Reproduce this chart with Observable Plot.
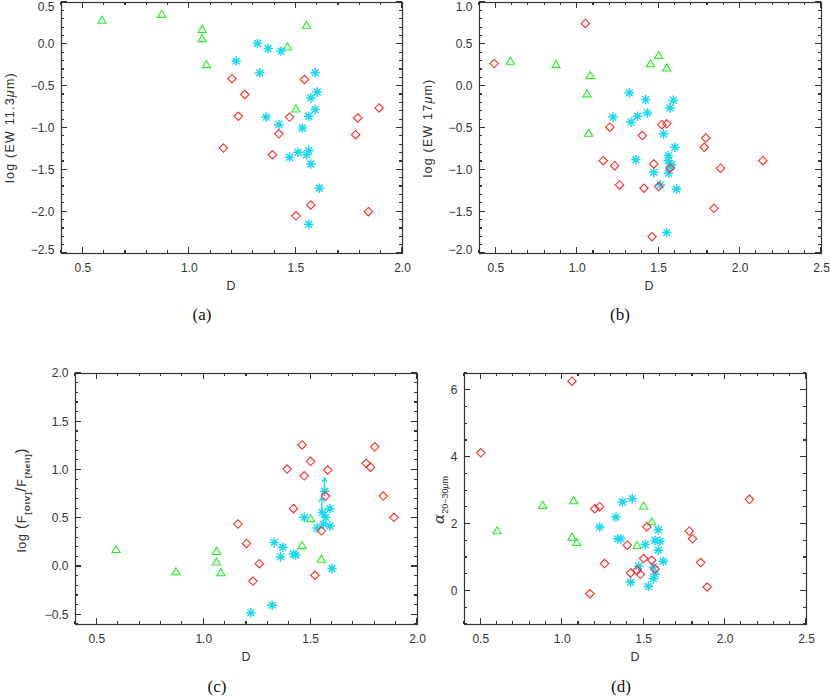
<!DOCTYPE html>
<html><head><meta charset="utf-8">
<script src="https://cdn.jsdelivr.net/npm/d3@7"></script>
<script src="https://cdn.jsdelivr.net/npm/@observablehq/plot@0.6"></script>
<style>
body{margin:0;background:#fff}
#chart{position:relative;width:830px;height:696px;overflow:hidden;background:#fff}
#chart>div{position:absolute}
#chart svg{overflow:visible;max-width:none}
</style></head><body><div id="chart"></div>
<script>
// ---------- Panel (a): log EW 11.3um vs D ----------
const aGreenD = [0.59, 0.87, 1.06, 1.06, 1.08, 1.46, 1.55, 1.50];
const aGreenV = [0.28, 0.35, 0.17, 0.06, -0.25, -0.04, 0.22, -0.78];
const aRedD = [1.20, 1.26, 1.23, 1.16, 1.39, 1.42, 1.47, 1.54, 1.50, 1.57, 1.78, 1.79, 1.89, 1.84];
const aRedV = [-0.41, -0.60, -0.86, -1.24, -1.32, -1.07, -0.87, -0.42, -2.05, -1.92, -1.08, -0.88, -0.76, -2.00];
const aCyanD = [1.32, 1.37, 1.43, 1.22, 1.33, 1.59, 1.60, 1.57, 1.59, 1.56, 1.36, 1.42, 1.53, 1.47, 1.51, 1.56, 1.55, 1.57, 1.61, 1.56];
const aCyanV = [0.01, -0.05, -0.08, -0.20, -0.34, -0.34, -0.57, -0.64, -0.78, -0.86, -0.87, -0.96, -1.00, -1.35, -1.29, -1.27, -1.32, -1.43, -1.72, -2.15];
const aXTicks = [0.5, 1.0, 1.5, 2.0];
const aYTicks = [-2.5, -2.0, -1.5, -1.0, -0.5, 0.0, 0.5];

// ---------- Panel (b): log EW 17um vs D ----------
const bGreenD = [0.59, 0.87, 1.08, 1.06, 1.07, 1.45, 1.50, 1.55];
const bGreenV = [0.29, 0.25, 0.12, -0.10, -0.57, 0.26, 0.36, 0.21];
const bRedD = [0.49, 1.05, 1.20, 1.16, 1.23, 1.26, 1.40, 1.41, 1.47, 1.50, 1.52, 1.55, 1.57, 1.79, 1.78, 1.88, 1.84, 1.46, 2.14];
const bRedV = [0.27, 0.75, -0.49, -0.89, -0.95, -1.18, -0.59, -1.22, -0.93, -1.20, -0.46, -0.45, -0.98, -0.62, -0.73, -0.98, -1.46, -1.80, -0.89];
const bCyanD = [1.32, 1.42, 1.22, 1.33, 1.37, 1.43, 1.59, 1.57, 1.53, 1.36, 1.47, 1.51, 1.60, 1.56, 1.56, 1.57, 1.58, 1.56, 1.61, 1.55];
const bCyanV = [-0.08, -0.16, -0.37, -0.43, -0.36, -0.32, -0.17, -0.26, -0.57, -0.88, -1.03, -1.18, -0.73, -0.83, -0.89, -0.96, -0.94, -1.04, -1.23, -1.75];
const bXTicks = [0.5, 1.0, 1.5, 2.0, 2.5];
const bYTicks = [-2.0, -1.5, -1.0, -0.5, 0.0, 0.5, 1.0];

// ---------- Panel (c): log F[OIV]/F[NeII] vs D ----------
const cGreenD = [0.59, 0.87, 1.06, 1.06, 1.08, 1.46, 1.50, 1.55];
const cGreenV = [0.17, -0.06, 0.15, 0.04, -0.07, 0.21, 0.49, 0.07];
const cRedD = [1.46, 1.50, 1.39, 1.47, 1.58, 1.42, 1.57, 1.55, 1.16, 1.20, 1.26, 1.23, 1.52, 1.76, 1.78, 1.80, 1.84, 1.89];
const cRedV = [1.26, 1.09, 1.01, 0.94, 1.00, 0.60, 0.73, 0.37, 0.44, 0.24, 0.03, -0.15, -0.09, 1.07, 1.03, 1.24, 0.73, 0.51];
const cCyanD = [1.33, 1.37, 1.36, 1.42, 1.43, 1.47, 1.53, 1.56, 1.57, 1.59, 1.59, 1.565, 1.555, 1.60, 1.22, 1.32];
const cCyanV = [0.25, 0.20, 0.10, 0.13, 0.12, 0.51, 0.40, 0.44, 0.51, 0.60, 0.42, 0.78, 0.56, -0.02, -0.48, -0.40];
const cLimD = [1.565, 1.552];      // lower limits (arrows)
const cLimFrom = [0.78, 0.56];
const cLimTo = [0.92, 0.72];
const cXTicks = [0.5, 1.0, 1.5, 2.0];
const cYTicks = [-0.5, 0.0, 0.5, 1.0, 1.5, 2.0];

// ---------- Panel (d): alpha 20-30um vs D ----------
const dGreenD = [0.60, 0.88, 1.07, 1.06, 1.09, 1.46, 1.50, 1.55];
const dGreenV = [1.78, 2.54, 2.68, 1.59, 1.43, 1.34, 2.52, 2.05];
const dRedD = [0.50, 1.06, 1.20, 1.23, 1.17, 1.26, 1.40, 1.42, 1.46, 1.48, 1.50, 1.52, 1.55, 1.57, 1.78, 1.80, 1.85, 1.89, 2.15];
const dRedV = [4.13, 6.27, 2.46, 2.52, -0.08, 0.82, 1.37, 0.54, 0.62, 0.50, 0.97, 1.92, 0.92, 0.66, 1.79, 1.56, 0.85, 0.12, 2.74];
const dCyanD = [1.37, 1.43, 1.33, 1.23, 1.34, 1.36, 1.51, 1.57, 1.60, 1.59, 1.59, 1.62, 1.47, 1.42, 1.53, 1.56, 1.57, 1.56];
const dCyanV = [2.66, 2.76, 2.21, 1.91, 1.56, 1.56, 1.39, 1.51, 1.49, 1.83, 1.22, 0.89, 0.74, 0.26, 0.14, 0.37, 0.50, 0.72];
const dXTicks = [0.5, 1.0, 1.5, 2.0, 2.5];
const dYTicks = [0, 2, 4, 6];

// ---------- styling ----------
const GREEN = "#22f022", RED = "#ff2a2a", CYAN = "#1cd9ee", INK = "#333333";
const asterisk8 = {
  draw(ctx, size) {
    const r = Math.sqrt(size / Math.PI), d = r * Math.SQRT1_2;
    ctx.moveTo(-r, 0); ctx.lineTo(r, 0);
    ctx.moveTo(0, -r); ctx.lineTo(0, r);
    ctx.moveTo(-d, -d); ctx.lineTo(d, d);
    ctx.moveTo(-d, d); ctx.lineTo(d, -d);
  }
};
const pts = (xs, ys) => xs.map((x, i) => ({D: x, v: ys[i]}));
const range = (a, b, s) => d3.range(Math.round(a / s), Math.round(b / s) + 1).map(k => +(k * s).toFixed(6));
const FONT = "Liberation Sans, Arial, sans-serif";

// inward tick marks on all four sides, placed with Plot's own scales
function drawTicks(svg, o) {
  const X = svg.scale("x"), Y = svg.scale("y");
  const [xa, xb] = X.range, [ya, yb] = Y.range;   // px extents of the frame
  const top = Math.min(ya, yb), bot = Math.max(ya, yb), left = Math.min(xa, xb), right = Math.max(xa, xb);
  const g = d3.select(svg).append("g").attr("stroke", INK).attr("stroke-width", 1.2).attr("shape-rendering", "crispEdges");
  const seg = (x1, y1, x2, y2) => g.append("line").attr("x1", x1).attr("y1", y1).attr("x2", x2).attr("y2", y2);
  for (const [vals, len] of [[o.xMinor, 3], [o.xTicks, 6]]) for (const v of vals) {
    const px = X.apply(v);
    seg(px, bot, px, bot - len); seg(px, top, px, top + len);
  }
  for (const [vals, len] of [[o.yMinor, 3], [o.yTicks, 6]]) for (const v of vals) {
    const py = Y.apply(v);
    seg(left, py, left + len, py); seg(right, py, right - len, py);
  }
}

function panel(o) {
  const yMid = o.yTicks.slice(1, -1);
  const yTop = o.yTicks.slice(-1), yBot = o.yTicks.slice(0, 1);
  const yLab = (ticks, dy) => Plot.axisY({anchor: "left", ticks, tickSize: 0, tickPadding: 7, tickFormat: o.yFmt, label: null, fill: "#333", dy});
  const marks = [
    Plot.axisX({anchor: "bottom", ticks: o.xTicks, tickSize: 0, tickPadding: 10, tickFormat: d3.format(".1f"), label: null, fill: "#333"}),
    yLab(yMid, 0), yLab(yTop, o.endShift ? 5 : 0), yLab(yBot, o.endShift ? -3 : 0),
    Plot.dot(o.green, {x: "D", y: "v", symbol: "triangle2", r: 3.9, stroke: GREEN, fill: "none", strokeWidth: 1.1}),
    ...(o.extra || []),
    Plot.dot(o.cyan, {x: "D", y: "v", symbol: asterisk8, r: 4.8, stroke: CYAN, fill: "none", strokeWidth: 1.5}),
    Plot.dot(o.red, {x: "D", y: "v", symbol: "diamond2", r: 3.8, stroke: RED, fill: "none", strokeWidth: 1.1}),
    Plot.frame({stroke: INK, strokeWidth: 1.2})
  ];
  const svg = Plot.plot({
    width: o.width, height: o.height,
    marginLeft: o.m[0], marginRight: o.m[1], marginTop: o.m[2], marginBottom: o.m[3],
    x: {domain: o.xDomain, axis: null},
    y: {domain: o.yDomain, axis: null},
    style: {fontFamily: FONT, fontSize: "12px", color: INK, background: "transparent", overflow: "visible", maxWidth: "none"},
    marks
  });
  drawTicks(svg, o);
  const s = d3.select(svg);
  s.append("text").attr("x", o.dPos[0]).attr("y", o.dPos[1]).attr("text-anchor", "middle")
    .attr("font-family", FONT).attr("font-size", 12.5).attr("fill", "#333").text("D");
  s.append("text").attr("x", o.capPos[0]).attr("y", o.capPos[1]).attr("text-anchor", "middle")
    .attr("font-family", "Liberation Serif, DejaVu Serif, serif").attr("font-size", 17).attr("fill", "#111").text(o.caption);
  const t = s.append("text").attr("transform", `translate(${o.yPos[0]},${o.yPos[1]}) rotate(-90)`)
    .attr("text-anchor", "middle").attr("dy", "0.35em")
    .attr("font-family", FONT).attr("font-size", 12.5).attr("fill", "#333");
  o.yTitle(t);
  const div = document.createElement("div");
  div.style.left = o.left + "px"; div.style.top = o.top + "px";
  div.style.width = o.width + "px"; div.style.height = o.height + "px";
  div.appendChild(svg);
  document.getElementById("chart").appendChild(div);
}

panel({
  left: 0, top: 0, width: 415, height: 330, m: [61, 13, 2, 77], endShift: true,
  xDomain: [0.4, 2.0], yDomain: [-2.5, 0.5],
  xTicks: aXTicks, yTicks: aYTicks, xMinor: range(0.4, 2.0, 0.1), yMinor: range(-2.5, 0.5, 0.1),
  yFmt: d3.format(".1f"),
  green: pts(aGreenD, aGreenV), red: pts(aRedD, aRedV), cyan: pts(aCyanD, aCyanV),
  dPos: [231, 290], capPos: [202, 320], caption: "(a)", yPos: [10, 127.5],
  yTitle: t => { t.attr("letter-spacing", "1.2px"); t.append("tspan").text("log (EW 11.3"); t.append("tspan").attr("font-style", "italic").text("μ"); t.append("tspan").text("m)"); }
});

panel({
  left: 415, top: 0, width: 415, height: 330, m: [64, 9, 2, 77], endShift: true,
  xDomain: [0.4, 2.5], yDomain: [-2.0, 1.0],
  xTicks: bXTicks, yTicks: bYTicks, xMinor: range(0.4, 2.5, 0.1), yMinor: range(-2.0, 1.0, 0.1),
  yFmt: d3.format(".1f"),
  green: pts(bGreenD, bGreenV), red: pts(bRedD, bRedV), cyan: pts(bCyanD, bCyanV),
  dPos: [234, 290], capPos: [205, 320], caption: "(b)", yPos: [13, 128],
  yTitle: t => { t.attr("letter-spacing", "1.2px"); t.append("tspan").text("log (EW 17"); t.append("tspan").attr("font-style", "italic").text("μ"); t.append("tspan").text("m)"); }
});

panel({
  left: 0, top: 340, width: 425, height: 356, m: [75, 8, 33, 72],
  xDomain: [0.4, 2.0], yDomain: [-0.6, 2.0],
  xTicks: cXTicks, yTicks: cYTicks, xMinor: range(0.4, 2.0, 0.1), yMinor: range(-0.6, 2.0, 0.1),
  yFmt: d3.format(".1f"),
  green: pts(cGreenD, cGreenV), red: pts(cRedD, cRedV), cyan: pts(cCyanD, cCyanV),
  extra: [Plot.arrow(cLimD.map((d, i) => ({D: d, a: cLimFrom[i], b: cLimTo[i]})),
    {x1: "D", y1: "a", x2: "D", y2: "b", stroke: CYAN, strokeWidth: 1.3, headLength: 6})],
  dPos: [246, 321], capPos: [217, 352], caption: "(c)", yPos: [22, 160],
  yTitle: t => {
    t.attr("letter-spacing", "0.8px");
    t.append("tspan").text("log ");
    t.append("tspan").attr("font-size", 15).text("(");
    t.append("tspan").text("F");
    t.append("tspan").attr("font-size", 8).attr("font-weight", "bold").attr("dy", 4).text("[OIV]");
    t.append("tspan").attr("font-size", 15).attr("dy", -4).text("/");
    t.append("tspan").text("F");
    t.append("tspan").attr("font-size", 8).attr("font-weight", "bold").attr("dy", 4).text("[NeII]");
    t.append("tspan").attr("font-size", 15).attr("dy", -4).text(")");
  }
});

panel({
  left: 425, top: 340, width: 405, height: 356, m: [39, 24, 33, 72],
  xDomain: [0.4, 2.5], yDomain: [-1.0, 6.5],
  xTicks: dXTicks, yTicks: dYTicks, xMinor: range(0.4, 2.5, 0.1), yMinor: range(-1.0, 6.5, 0.5),
  yFmt: d3.format("d"),
  green: pts(dGreenD, dGreenV), red: pts(dRedD, dRedV), cyan: pts(dCyanD, dCyanV),
  dPos: [210, 321], capPos: [196, 352], caption: "(d)", yPos: [15, 160],
  yTitle: t => {
    t.append("tspan").attr("font-size", 15).attr("font-family", "DejaVu Serif, serif").attr("font-style", "italic").text("α");
    t.append("tspan").attr("font-size", 9).attr("dy", 4).text("20−30");
    t.append("tspan").attr("font-size", 9).attr("font-style", "italic").text("μ");
    t.append("tspan").attr("font-size", 9).text("m");
  }
});
</script></body></html>
